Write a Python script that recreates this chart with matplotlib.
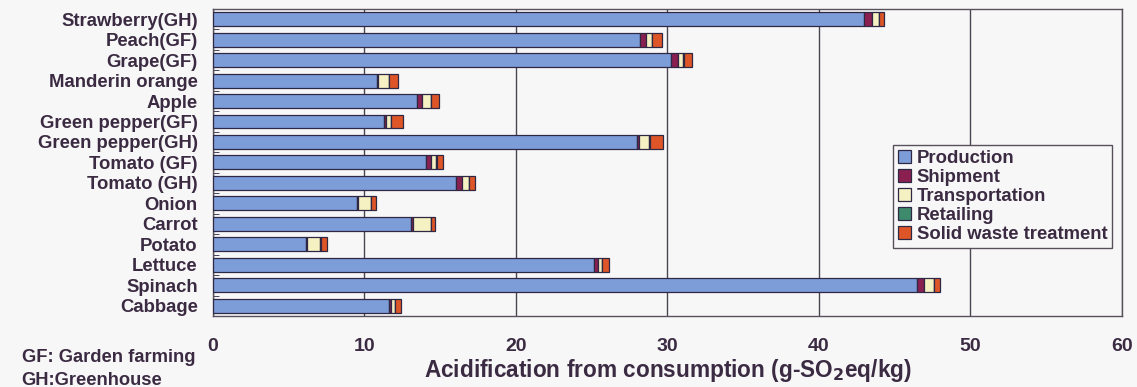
import numpy as np
import matplotlib.pyplot as plt

plt.rcParams['font.family'] = ['Liberation Sans', 'DejaVu Sans']
plt.rcParams['font.weight'] = 'bold'

crops = ['Strawberry(GH)', 'Peach(GF)', 'Grape(GF)', 'Manderin orange', 'Apple',
         'Green pepper(GF)', 'Green pepper(GH)', 'Tomato (GF)', 'Tomato (GH)',
         'Onion', 'Carrot', 'Potato', 'Lettuce', 'Spinach', 'Cabbage']

production = [43.0, 28.2, 30.2, 10.8, 13.5, 11.3, 28.0, 14.05, 16.07, 9.52, 13.09, 6.12, 25.13, 46.47, 11.64]
shipment = [0.5, 0.4, 0.5, 0.1, 0.3, 0.15, 0.15, 0.35, 0.4, 0.06, 0.09, 0.08, 0.27, 0.43, 0.11]
transportation = [0.45, 0.35, 0.35, 0.7, 0.6, 0.3, 0.65, 0.35, 0.43, 0.86, 1.21, 0.88, 0.28, 0.67, 0.25]
retailing = [0.02] * 15
waste = [0.3, 0.65, 0.55, 0.6, 0.5, 0.8, 0.9, 0.4, 0.38, 0.33, 0.24, 0.4, 0.42, 0.37, 0.4]

stages = ['Production', 'Shipment', 'Transportation', 'Retailing', 'Solid waste treatment']
colors = ['#7d9dd9', '#8a2050', '#f5f1c2', '#3d8a6c', '#de5527']
series = [production, shipment, transportation, retailing, waste]

txt = '#3b2b42'
edge = '#2e2845'

fig = plt.figure(figsize=(11.37, 3.87), dpi=100)
fig.patch.set_facecolor('#f8f7f8')
ax = fig.add_axes([0.1873, 0.1835, 0.7995, 0.7935])
ax.set_facecolor('#f8f7f8')

y = np.arange(len(crops))
left = np.zeros(len(crops))
for name, vals, c in zip(stages, series, colors):
    ax.barh(y, vals, left=left, height=0.68, color=c, edgecolor=edge,
            linewidth=0.9, label=name, zorder=3)
    left += np.array(vals)

ax.set_xlim(0, 60)
ax.set_ylim(len(crops) - 0.5, -0.5)
ax.set_xticks(range(0, 61, 10))
ax.xaxis.grid(True, color='#4a4550', linewidth=1.0, zorder=0)
ax.set_yticks(y)
ax.set_yticklabels(crops, fontsize=13.3, fontweight='bold', color=txt)
ax.set_yticks(np.arange(-0.5, len(crops), 1), minor=True)
ax.tick_params(axis='y', which='major', length=0, pad=11)
ax.tick_params(axis='y', which='minor', direction='in', length=4, color=edge)
ax.tick_params(axis='x', length=0, pad=16, labelsize=14, labelcolor=txt)
for lab in ax.get_xticklabels():
    lab.set_fontweight('bold')
for s in ax.spines.values():
    s.set_color('#55505a')
    s.set_linewidth(1.0)

ax.set_xlabel('Acidification from consumption (g-SO$_\\mathbf{2}$eq/kg)',
              fontsize=16.3, fontweight='bold', color=txt, labelpad=1)

leg = ax.legend(loc='upper left', bbox_to_anchor=(0.748, 0.557), fontsize=13.3,
                handlelength=0.75, handleheight=0.75, handletextpad=0.3,
                labelspacing=0.1, borderpad=0.25, borderaxespad=0, fancybox=False,
                framealpha=1, facecolor='#f8f7f8', edgecolor='#55505a')
for t in leg.get_texts():
    t.set_color(txt)
    t.set_fontweight('bold')

fig.text(0.019, 0.075, 'GF: Garden farming', fontsize=13.2, fontweight='bold',
         color=txt, va='center')
fig.text(0.019, 0.018, 'GH:Greenhouse', fontsize=13.2, fontweight='bold',
         color=txt, va='center')

fig.savefig('out.png', dpi=100, facecolor=fig.get_facecolor())
